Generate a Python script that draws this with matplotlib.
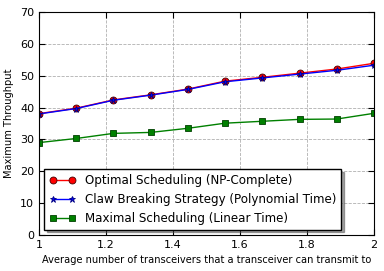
import matplotlib.pyplot as plt
import numpy as np

# average number of transceivers reachable
x = np.linspace(1, 2, 10)

optimal = [38.1, 39.8, 42.4, 44.0, 45.8, 48.3, 49.5, 50.8, 52.1, 53.9]
claw = [38.0, 39.7, 42.3, 43.9, 45.7, 48.1, 49.3, 50.5, 51.7, 53.3]
maximal = [29.0, 30.3, 31.9, 32.2, 33.5, 35.1, 35.7, 36.3, 36.4, 38.2]

labels = ['Optimal Scheduling (NP-Complete)',
          'Claw Breaking Strategy (Polynomial Time)',
          'Maximal Scheduling (Linear Time)']

fig = plt.figure(figsize=(3.84, 2.71), dpi=100)
ax = fig.add_axes([39 / 384, 36 / 271, 335 / 384, 223 / 271])

ax.plot(x, optimal, 'r-o', lw=1, markersize=5, markeredgecolor='#400000', markeredgewidth=0.6, label=labels[0])
ax.plot(x, claw, 'b-*', lw=1, markersize=5, markeredgecolor='#000080', markeredgewidth=0.6, label=labels[1])
ax.plot(x, maximal, '-s', lw=1, color='green', markersize=5, markeredgecolor='#004000', markeredgewidth=0.6, label=labels[2])

ax.set_xlim(1, 2)
ax.set_ylim(0, 70)
ax.set_xticks([1, 1.2, 1.4, 1.6, 1.8, 2])
ax.set_xticklabels(['1', '1.2', '1.4', '1.6', '1.8', '2'])
ax.set_yticks(range(0, 71, 10))
ax.tick_params(direction='in', labelsize=8, top=True, right=True, length=4)
ax.grid(True, linestyle='--', color='#b0b0b0', linewidth=0.6)
ax.set_xlabel('Average number of transceivers that a transceiver can transmit to', fontsize=7.1)
ax.set_ylabel('Maximum Throughput', fontsize=7.1)

leg = ax.legend(loc='lower left', fontsize=8.6, shadow=True, fancybox=False,
                numpoints=2, borderaxespad=0.45, handlelength=2.2)
leg.get_frame().set_edgecolor('black')

plt.savefig('out.png')
